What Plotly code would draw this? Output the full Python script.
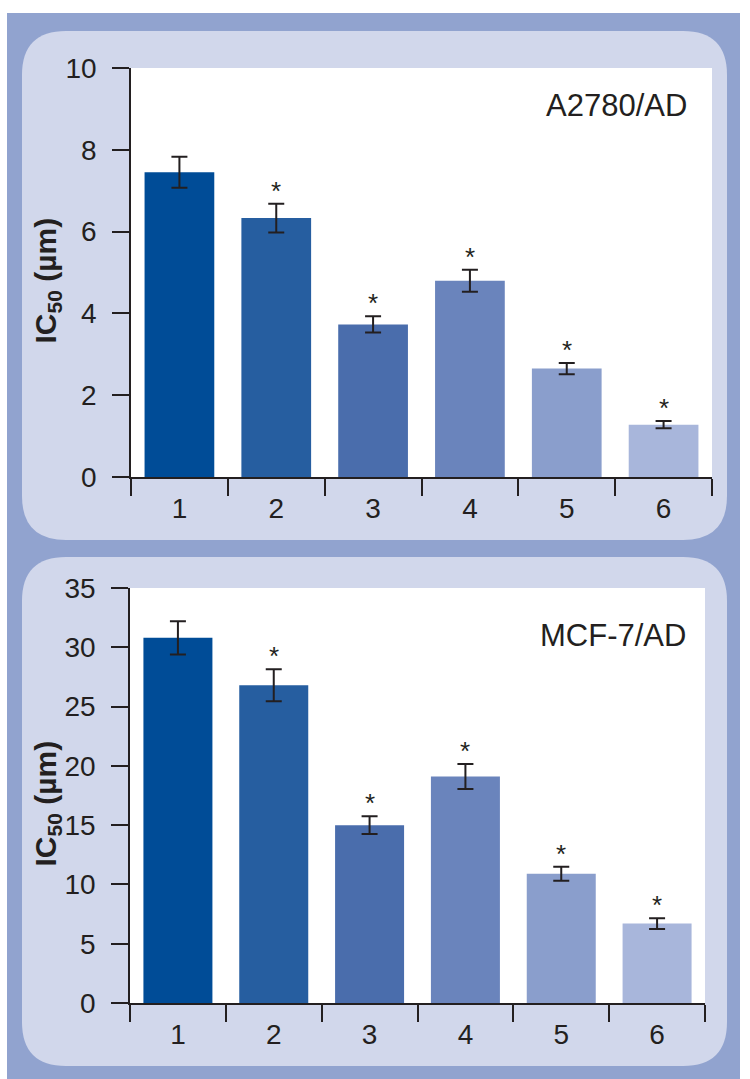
import plotly.graph_objects as go

W, H = 750, 1079

categories = ["1", "2", "3", "4", "5", "6"]
bar_colors = ["#004C97", "#265EA0", "#4A6DAC", "#6A84BC", "#8A9ECC", "#A8B6DB"]

a2780_values = [7.45, 6.33, 3.73, 4.80, 2.65, 1.28]
a2780_errors = [0.38, 0.35, 0.20, 0.27, 0.14, 0.09]
a2780_sig = [False, True, True, True, True, True]

mcf7_values = [30.8, 26.8, 15.0, 19.1, 10.9, 6.7]
mcf7_errors = [1.4, 1.35, 0.75, 1.05, 0.6, 0.45]
mcf7_sig = [False, True, True, True, True, True]

a2780_ticks = [0, 2, 4, 6, 8, 10]
mcf7_ticks = [0, 5, 10, 15, 20, 25, 30, 35]

FONT = "Liberation Sans, Arial, Helvetica, sans-serif"
INK = "#231F20"
OUTER = "#91A3CF"
INNER = "#D1D7EB"


def px(x):
    return x / W


def py(y):
    return 1 - y / H


def rounded_path(x0, y0, x1, y1, r):
    pts = [
        ("M", (x0 + r, y0)),
        ("L", (x1 - r, y0)),
        ("Q", (x1, y0), (x1, y0 + r)),
        ("L", (x1, y1 - r)),
        ("Q", (x1, y1), (x1 - r, y1)),
        ("L", (x0 + r, y1)),
        ("Q", (x0, y1), (x0, y1 - r)),
        ("L", (x0, y0 + r)),
        ("Q", (x0, y0), (x0 + r, y0)),
    ]
    s = ""
    for p in pts:
        cmd = p[0]
        coords = " ".join(f"{px(c[0]):.5f},{py(c[1]):.5f}" for c in p[1:])
        s += f"{cmd} {coords} "
    return s + "Z"


fig = go.Figure()

panels = [
    dict(vals=a2780_values, errs=a2780_errors, sig=a2780_sig, ticks=a2780_ticks,
         rng=[0, 10], xdom=(131, 712), ydom=(68, 477), xa="x", ya="y",
         label="A2780/AD", label_y=105, label_x=689),
    dict(vals=mcf7_values, errs=mcf7_errors, sig=mcf7_sig, ticks=mcf7_ticks,
         rng=[0, 35], xdom=(130, 705), ydom=(588, 1003), xa="x2", ya="y2",
         label="MCF-7/AD", label_y=635, label_x=688),
]

shapes = [
    dict(type="rect", xref="paper", yref="paper", x0=px(7), x1=px(740), y0=py(1079), y1=py(13),
         fillcolor=OUTER, line=dict(width=0), layer="below"),
    dict(type="path", xref="paper", yref="paper", path=rounded_path(22, 31, 727, 540, 44),
         fillcolor=INNER, line=dict(width=0), layer="below"),
    dict(type="path", xref="paper", yref="paper", path=rounded_path(22, 557, 727, 1066, 44),
         fillcolor=INNER, line=dict(width=0), layer="below"),
]
annotations = []

for i, p in enumerate(panels):
    fig.add_trace(go.Bar(
        x=categories, y=p["vals"], xaxis=p["xa"], yaxis=p["ya"],
        marker=dict(color=bar_colors, line=dict(width=0)),
        width=0.72,
        error_y=dict(type="data", array=p["errs"], color=INK, thickness=2, width=8),
        showlegend=False, hoverinfo="skip",
    ))
    shapes.append(dict(type="rect", xref="paper", yref="paper",
                       x0=px(p["xdom"][0]), x1=px(p["xdom"][1]),
                       y0=py(p["ydom"][1]), y1=py(p["ydom"][0]),
                       fillcolor="white", line=dict(width=0), layer="below"))
    axkey = "" if i == 0 else "2"
    fig.update_layout(**{
        f"xaxis{axkey}": dict(
            domain=[px(p["xdom"][0]), px(p["xdom"][1])],
            anchor=p["ya"], type="category", range=[-0.5, 5.5], automargin=False,
            tickson="boundaries", ticks="outside", ticklen=17, tickwidth=1.5, tickcolor=INK,
            showline=True, linecolor=INK, linewidth=1.5, showgrid=False, zeroline=False,
            tickfont=dict(family=FONT, size=28, color=INK), ticklabelstandoff=6,
            fixedrange=True,
        ),
        f"yaxis{axkey}": dict(
            domain=[py(p["ydom"][1]), py(p["ydom"][0])],
            anchor=p["xa"], range=p["rng"], tickvals=p["ticks"], automargin=False,
            ticks="outside", ticklen=17, tickwidth=1.5, tickcolor=INK,
            showline=True, linecolor=INK, linewidth=1.5, showgrid=False, zeroline=False,
            tickfont=dict(family=FONT, size=28, color=INK), ticklabelstandoff=10,
            fixedrange=True,
        ),
    })
    for idx, (v, e, s) in enumerate(zip(p["vals"], p["errs"], p["sig"])):
        if s:
            annotations.append(dict(x=idx, y=v + e, xref=p["xa"], yref=p["ya"], text="*",
                                    showarrow=False, yanchor="middle", yshift=13,
                                    font=dict(family=FONT, size=26, color=INK)))
    annotations.append(dict(x=px(p["label_x"]), y=py(p["label_y"]), xref="paper", yref="paper",
                            text=p["label"], showarrow=False, xanchor="right", yanchor="middle",
                            font=dict(family=FONT, size=31, color=INK)))
    mid = (p["ydom"][0] + p["ydom"][1]) / 2 + 8
    annotations.append(dict(x=px(47), y=py(mid), xref="paper", yref="paper",
                            text="<b>IC<sub>50</sub> (µm)</b>", textangle=-90, showarrow=False,
                            xanchor="center", yanchor="middle",
                            font=dict(family=FONT, size=30, color=INK)))

fig.update_layout(
    template="none",
    width=W, height=H, margin=dict(l=0, r=0, t=0, b=0, pad=0, autoexpand=False),
    paper_bgcolor="white", plot_bgcolor="rgba(0,0,0,0)",
    shapes=shapes, annotations=annotations, bargap=0.28,
)

fig.write_html("out.html", config={"displayModeBar": False},
               post_script="document.body.style.margin='0px';document.body.style.padding='0px';")
